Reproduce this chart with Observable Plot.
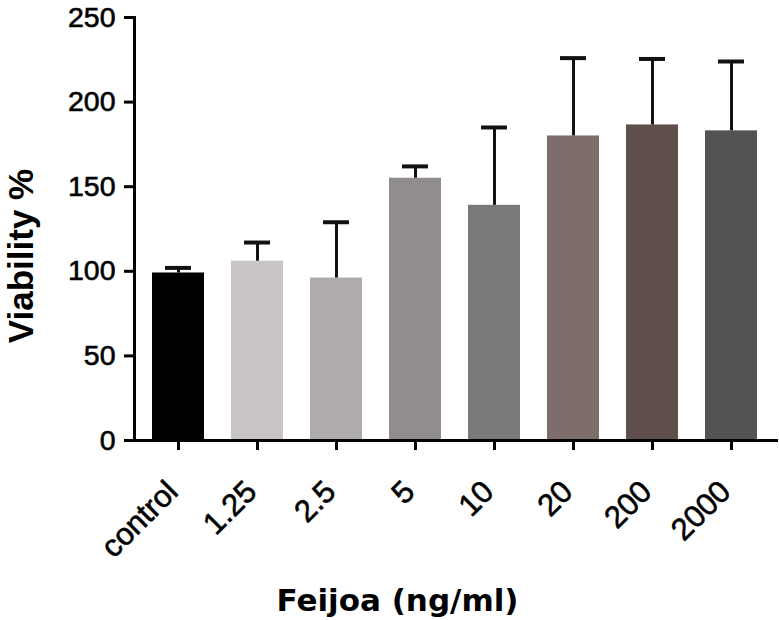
<!DOCTYPE html>
<html>
<head>
<meta charset="utf-8">
<script src="https://cdn.jsdelivr.net/npm/d3@7"></script>
<script src="https://cdn.jsdelivr.net/npm/@observablehq/plot@0.6"></script>
<style>
  html, body { margin: 0; padding: 0; background: #fff; }
  #chart svg { display: block; }
  #chart svg g[aria-label$="tick label"] text { stroke: #000; stroke-width: 0.6px; }
</style>
</head>
<body>
<div id="chart"></div>
<script>
// Data
const doses = ["control", "1.25", "2.5", "5", "10", "20", "200", "2000"];
const viability = [99, 106, 96, 155, 139, 180, 186.5, 183];
const errors = [3, 11, 33, 7, 46, 46, 39, 41];
const yTicks = [0, 50, 100, 150, 200, 250];

// Styling (kept apart from the data)
const palette = ["#000000", "#c8c5c4", "#aeabaa", "#918d8c", "#7a7878", "#7d6e6c", "#5e4f4c", "#545252"];

const data = doses.map((d, i) => ({dose: d, mean: viability[i], upper: viability[i] + errors[i]}));

const chart = Plot.plot({
  width: 779,
  height: 620,
  marginLeft: 134,
  marginRight: 1,
  marginTop: 17,
  marginBottom: 180,
  style: {fontFamily: "'Liberation Sans', Arial, sans-serif", color: "#000", background: "#fff"},
  x: {domain: doses, paddingInner: 0.344, paddingOuter: 0.232, align: 0.46, label: null},
  y: {domain: [0, 250], label: null},
  color: {domain: doses, range: palette},
  marks: [
    Plot.barY(data, {x: "dose", y: "mean", fill: "dose"}),
    Plot.ruleX(data, {x: "dose", y1: "mean", y2: "upper", stroke: "#111", strokeWidth: 3}),
    Plot.tickY(data, {x: "dose", y: "upper", stroke: "#111", strokeWidth: 4, insetLeft: 13, insetRight: 13}),
    Plot.ruleY([0], {stroke: "#000", strokeWidth: 3}),
    Plot.frame({anchor: "left", stroke: "#000", strokeWidth: 3}),
    Plot.axisY({ticks: yTicks, tickSize: 10, tickPadding: 9, strokeWidth: 3, fontSize: 28.5, label: null}),
    Plot.axisX({tickSize: 10, fill: "none", strokeWidth: 3, label: null}),
    Plot.axisX({tickSize: 0, tickPadding: 46, dx: -6, fontSize: 31, tickRotate: -45, label: null}),
    Plot.text(["Viability %"], {frameAnchor: "left", textAnchor: "middle", rotate: -90, dx: -113, dy: 27, fontSize: 35, fontWeight: "bold", fill: "#000"}),
    Plot.text(["Feijoa (ng/ml)"], {frameAnchor: "bottom", dx: -59, dy: 170, fontSize: 31, fontWeight: "bold", fontFamily: "'DejaVu Sans', Verdana, sans-serif", fill: "#000"})
  ]
});

document.getElementById("chart").appendChild(chart);
</script>
</body>
</html>
